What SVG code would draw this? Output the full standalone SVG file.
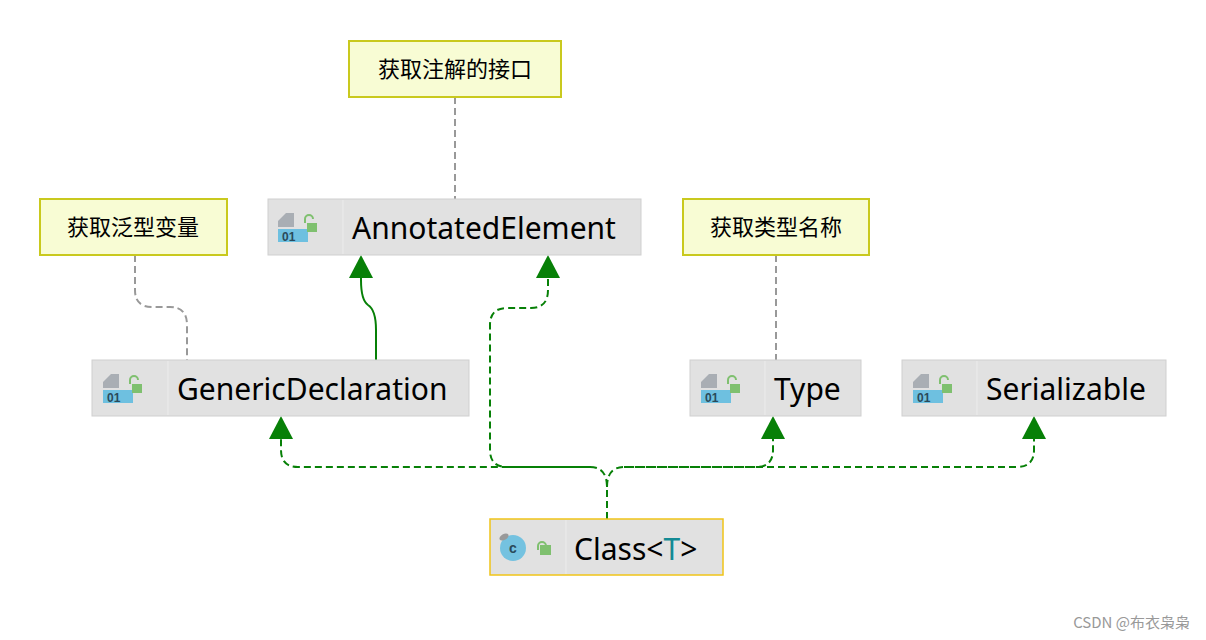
<svg xmlns="http://www.w3.org/2000/svg" width="1206" height="640" viewBox="0 0 1206 640">
<style>
.node{fill:#e1e1e1;stroke:#cfcfcf;stroke-width:1}
.sep{stroke:#ececec;stroke-width:1}
.lbl{font-family:"Noto Sans","Open Sans",sans-serif;font-size:30px;fill:#000}
.note{fill:#f8fcd4;stroke:#c9c91e;stroke-width:2}
.nt{font-family:"Noto Sans CJK SC",sans-serif;font-size:22px;fill:#000}
.g{fill:none;stroke:#078007;stroke-width:2}
.gd{fill:none;stroke:#078007;stroke-width:2;stroke-dasharray:7,4}
.nd{fill:none;stroke:#999;stroke-width:2;stroke-dasharray:7,4}
.ah{fill:#078007}
</style>
<defs>
<g id="ico">
<path d="M10 10 L18 2 H26 V16 H10 Z" fill="#a9aeb4"/>
<rect x="10" y="18" width="30" height="13" fill="#6ec0e0"/>
<text x="14" y="30" font-family="Liberation Sans,sans-serif" font-size="12" font-weight="bold" fill="#2a4a5a">01</text>
<path d="M37 12 v-4 a4 4 0 0 1 8 0" fill="none" stroke="#7fc06f" stroke-width="2"/>
<rect x="39" y="12" width="10" height="9" fill="#7fc06f"/>
</g>
</defs>
<rect width="1206" height="640" fill="#fff"/>
<g id="connectors">
<path class="nd" d="M455 97 V199"/>
<path class="nd" d="M776 255 V360"/>
<path class="nd" d="M135 255 V290 Q135 307 152 307 H170 Q187 307 187 325 V360"/>
<path class="g" d="M376 360 V330 Q376 310 368 305 Q361 300 361 280 V270"/>
<path class="gd" d="M607 519 V487 Q607 467 590 467 H298 Q281 467 281 450 V432"/>
<path class="gd" d="M607 487 Q607 467 624 467 H756 Q773 467 773 450 V432"/>
<path class="gd" d="M624 467 H1017 Q1034 467 1034 450 V432"/>
<path class="gd" d="M590 467 H507 Q490 467 490 450 V325 Q490 308 507 308 H531 Q548 308 548 290 V270"/>
<polygon class="ah" points="361,255 349,278 373,278"/>
<polygon class="ah" points="548,255 536,278 560,278"/>
<polygon class="ah" points="281,416 269,439 293,439"/>
<polygon class="ah" points="773,416 761,439 785,439"/>
<polygon class="ah" points="1034,416 1022,439 1046,439"/>
</g>
<g id="note1"><rect class="note" x="349" y="41" width="212" height="56"/><text class="nt" x="455" y="77" text-anchor="middle">获取注解的接口</text></g>
<g id="note2"><rect class="note" x="40" y="199" width="187" height="56"/><text class="nt" x="133" y="235" text-anchor="middle">获取泛型变量</text></g>
<g id="note3"><rect class="note" x="683" y="199" width="186" height="56"/><text class="nt" x="776" y="235" text-anchor="middle">获取类型名称</text></g>
<g id="AnnotatedElement"><rect class="node" x="268" y="199" width="373" height="56"/><line class="sep" x1="343" y1="200" x2="343" y2="254"/><use href="#ico" x="268" y="211"/><text class="lbl" x="352" y="239">AnnotatedElement</text></g>
<g id="GenericDeclaration"><rect class="node" x="92" y="360" width="377" height="56"/><line class="sep" x1="168" y1="361" x2="168" y2="415"/><use href="#ico" x="93" y="372"/><text class="lbl" x="177" y="400">GenericDeclaration</text></g>
<g id="Type"><rect class="node" x="690" y="360" width="171" height="56"/><line class="sep" x1="765" y1="361" x2="765" y2="415"/><use href="#ico" x="691" y="372"/><text class="lbl" x="774" y="400">Type</text></g>
<g id="Serializable"><rect class="node" x="902" y="360" width="264" height="56"/><line class="sep" x1="977" y1="361" x2="977" y2="415"/><use href="#ico" x="903" y="372"/><text class="lbl" x="986" y="400">Serializable</text></g>
<g id="Class"><rect x="490" y="519" width="233" height="56" fill="#e1e1e1" stroke="#f0c419" stroke-width="1.5"/><line class="sep" x1="566" y1="520" x2="566" y2="574"/>
<circle cx="513" cy="548" r="13" fill="#74c2e0"/><ellipse cx="504" cy="537" rx="5" ry="3" fill="#999" transform="rotate(-30 504 537)"/><text x="513" y="553" font-family="Liberation Sans,sans-serif" font-size="14" font-weight="bold" fill="#2a4a5a" text-anchor="middle">c</text>
<path d="M538 550 v-4 a4 4 0 0 1 8 0" fill="none" stroke="#7fc06f" stroke-width="2"/><rect x="540" y="545" width="11" height="10" fill="#7fc06f"/>
<text class="lbl" x="574" y="560">Class&lt;<tspan fill="#138a94">T</tspan>&gt;</text></g>
<text x="1190" y="628" font-family="Noto Sans CJK SC,sans-serif" font-size="15" fill="#999" text-anchor="end">CSDN @布衣枭枭</text>
</svg>
